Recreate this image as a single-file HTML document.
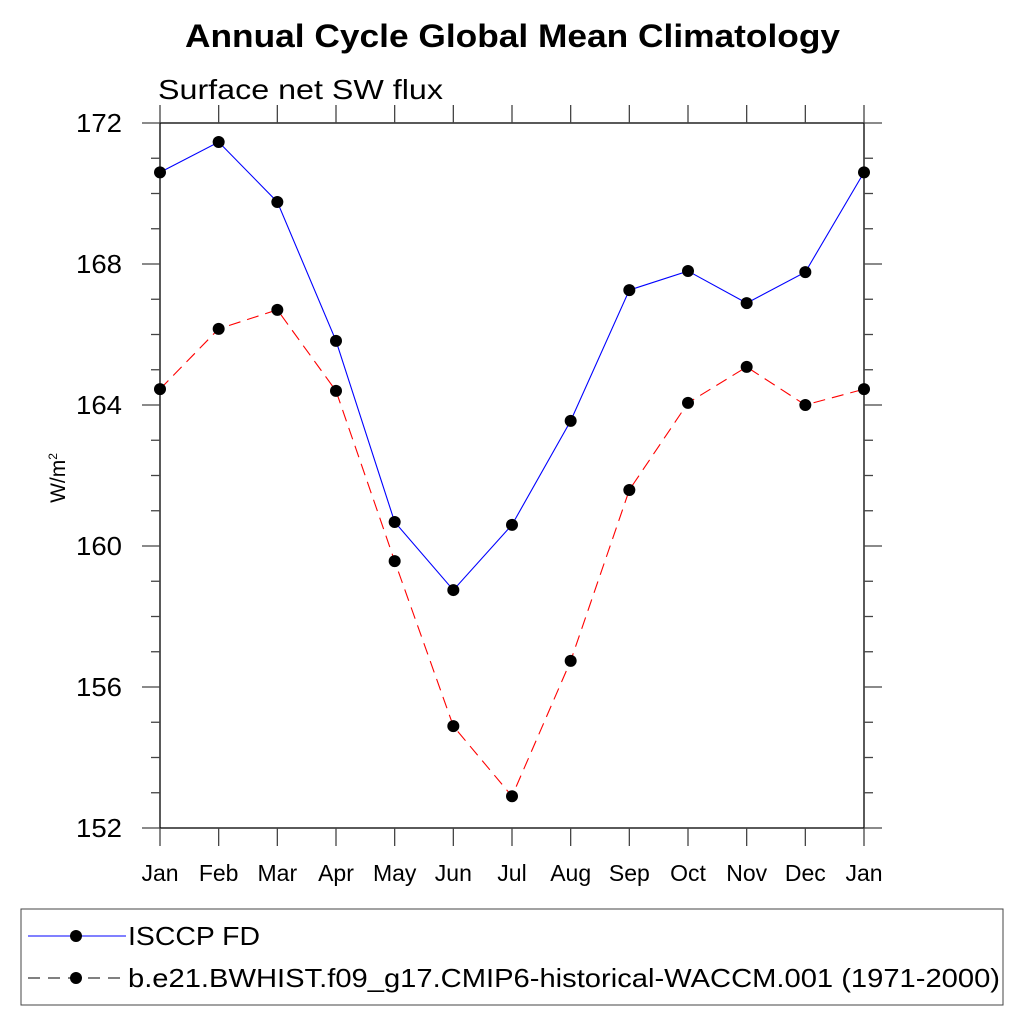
<!DOCTYPE html>
<html><head><meta charset="utf-8"><style>
body{margin:0;background:#fff;}
svg text{font-family:"Liberation Sans",sans-serif;}
</style></head><body>
<svg width="1024" height="1024" xmlns="http://www.w3.org/2000/svg">
<text x="185" y="47" font-size="32" font-weight="bold" textLength="655" lengthAdjust="spacingAndGlyphs">Annual Cycle Global Mean Climatology</text>
<text x="158" y="99" font-size="28" textLength="285" lengthAdjust="spacingAndGlyphs">Surface net SW flux</text>
<text transform="translate(65,478) rotate(-90)" text-anchor="middle" font-size="21">W/m<tspan dy="-8" font-size="12">2</tspan></text>
<g id="axes"></g>
<g id="series"></g>
<rect x="21" y="909" width="982" height="96" fill="none" stroke="#444" stroke-width="1"/>
<g>
<line x1="28" y1="936" x2="126" y2="936" stroke="blue" stroke-width="1"/>
<circle cx="76" cy="936" r="6" fill="#000"/>
<text x="128" y="945" font-size="26" textLength="132" lengthAdjust="spacingAndGlyphs">ISCCP FD</text>
</g>
<g>
<line x1="28" y1="978" x2="126" y2="978" stroke="#000" stroke-width="1" stroke-dasharray="12,8"/>
<circle cx="76" cy="978" r="6" fill="#000"/>
<text x="128" y="987" font-size="26" textLength="872" lengthAdjust="spacingAndGlyphs">b.e21.BWHIST.f09_g17.CMIP6-historical-WACCM.001 (1971-2000)</text>
</g>
</svg>
<script>
const months = ["Jan","Feb","Mar","Apr","May","Jun","Jul","Aug","Sep","Oct","Nov","Dec","Jan"];
const isccp = [170.6,171.46,169.76,165.82,160.68,158.75,160.6,163.55,167.26,167.8,166.89,167.77,170.6];
const waccm = [164.45,166.16,166.7,164.4,159.57,154.89,152.9,156.74,161.59,164.06,165.08,164.0,164.45];
const yTicks = [152,156,160,164,168,172];

const NS="http://www.w3.org/2000/svg";
const X0=160,X1=864,Y0=828,Y1=123,YMIN=152,YMAX=172;
const xs=i=>X0+(X1-X0)*i/(months.length-1);
const ys=v=>Y0-(v-YMIN)/(YMAX-YMIN)*(Y0-Y1);
function mk(tag,attrs,parent){const e=document.createElementNS(NS,tag);for(const k in attrs)e.setAttribute(k,attrs[k]);parent.appendChild(e);return e;}
const ax=document.getElementById('axes');
const frame=mk('rect',{x:X0,y:Y1,width:X1-X0,height:Y0-Y1,fill:'none',stroke:'#000','stroke-width':1.3},ax);


for(let v=YMIN;v<=YMAX;v++){
  const major=(v-YMIN)%4===0, L=major?18:9, y=ys(v);
  mk('line',{x1:X0-L,y1:y,x2:X0,y2:y,stroke:'#444','stroke-width':1.3},ax);
  mk('line',{x1:X1,y1:y,x2:X1+L,y2:y,stroke:'#444','stroke-width':1.3},ax);
}
yTicks.forEach(v=>{
  const t=mk('text',{x:76,y:ys(v)+9,'font-size':26,textLength:46,lengthAdjust:'spacingAndGlyphs'},ax);
  t.textContent=v;
  
  
});
months.forEach((m,i)=>{
  const x=xs(i);
  mk('line',{x1:x,y1:Y0,x2:x,y2:Y0+18,stroke:'#444','stroke-width':1.3},ax);
  mk('line',{x1:x,y1:Y1-18,x2:x,y2:Y1,stroke:'#444','stroke-width':1.3},ax);
  const t=mk('text',{x:x,y:881,'text-anchor':'middle','font-size':23},ax);
  t.textContent=m;
  
  
});
const sg=document.getElementById('series');
function series(vals,color,dash,name){
  const g=mk('g',{},sg);
  
  
  const a={points:vals.map((v,i)=>xs(i)+','+ys(v)).join(' '),fill:'none',stroke:color,'stroke-width':1.1};
  if(dash)a['stroke-dasharray']=dash;
  mk('polyline',a,g);
  vals.forEach((v,i)=>{const c=mk('circle',{cx:xs(i),cy:ys(v),r:6,fill:'#000'},g);
    
    });
}
series(isccp,'blue',null,'series-isccp');
series(waccm,'red','12,7','series-waccm');
</script>
</body></html>
